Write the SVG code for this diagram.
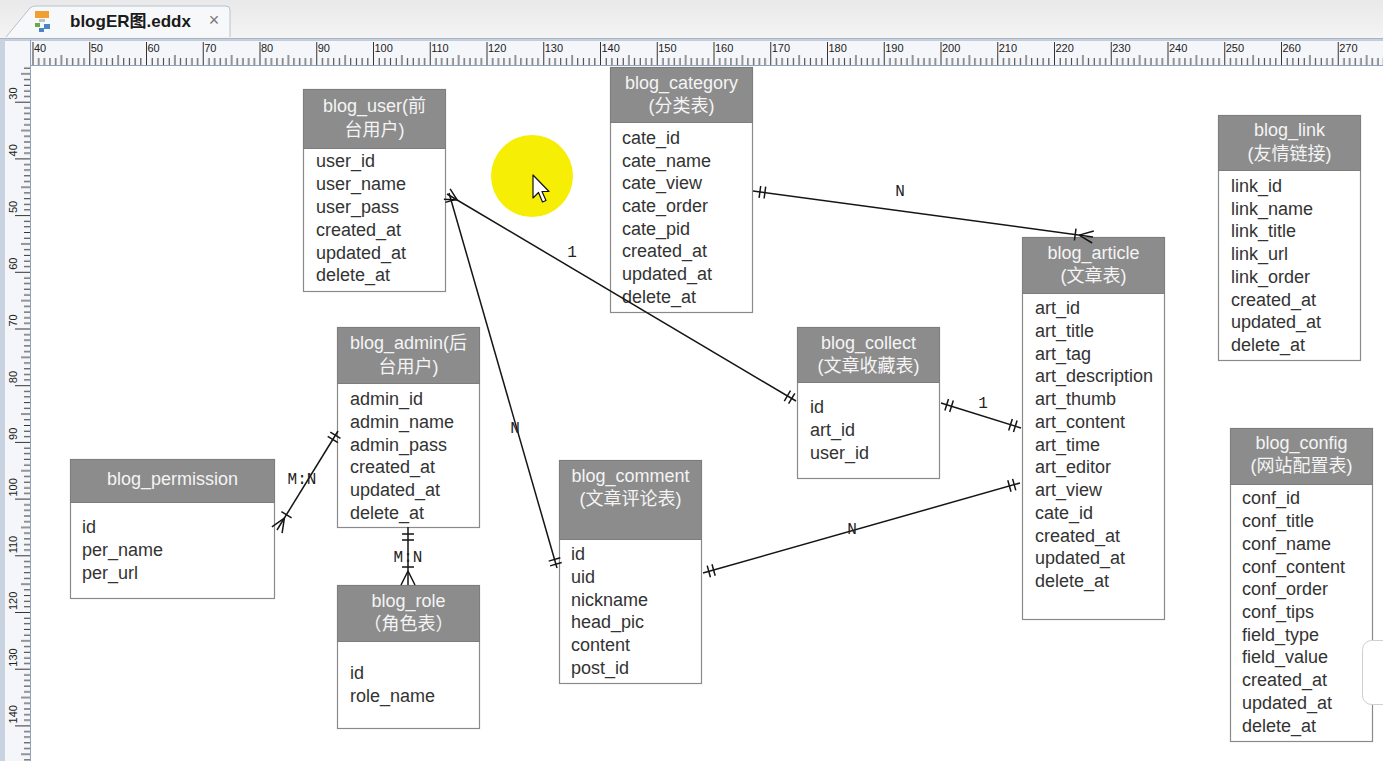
<svg xmlns="http://www.w3.org/2000/svg" width="1383" height="761" viewBox="0 0 1383 761">
<defs>
<style>
.hdr{fill:#8c8c8c;stroke:#7d7d7d;stroke-width:1}
.bdy{fill:#ffffff;stroke:#8a8a8a;stroke-width:1.2}
.ht{font-family:"Liberation Sans","Noto Sans CJK SC",sans-serif;font-size:18px;fill:#f4f4f4;text-anchor:middle}
.ft{font-family:"Liberation Sans","Noto Sans CJK SC",sans-serif;font-size:18px;fill:#333333}
.conn{stroke:#151515;stroke-width:1.5;fill:none}
.lbl{font-family:"Liberation Mono",monospace;font-size:16px;fill:#222222;text-anchor:middle}
.rl{font-family:"Liberation Sans",sans-serif;font-size:11px;fill:#222222}
.tk{stroke:#333333;stroke-width:1}
</style>
<pattern id="topTicks" patternUnits="userSpaceOnUse" x="32.5" y="40" width="56.75" height="26">
<path class="tk" d="M0.5 2V25M6.2 18V25M11.9 18V25M17.5 18V25M23.2 18V25M28.9 15V25M34.5 18V25M40.2 18V25M45.9 18V25M51.6 18V25"/>
</pattern>
<pattern id="leftTicks" patternUnits="userSpaceOnUse" x="5" y="101.7" width="26" height="56.7">
<path class="tk" d="M10 0.5H26M19 6.2H26M19 11.8H26M19 17.5H26M19 23.2H26M16 28.85H26M19 34.5H26M19 40.2H26M19 45.9H26M19 51.5H26"/>
</pattern>
<linearGradient id="tabbar" x1="0" y1="0" x2="0" y2="1">
<stop offset="0" stop-color="#e9e9e9"/>
<stop offset="1" stop-color="#f4f4f4"/>
</linearGradient>
</defs>

<!-- window chrome -->
<rect x="0" y="0" width="1383" height="761" fill="#ffffff"/>
<rect x="0" y="0" width="1383" height="39" fill="url(#tabbar)"/>
<line x1="0" y1="38.5" x2="1383" y2="38.5" stroke="#a9b4c4"/>
<path d="M6 37 L30 8 Q32 6 36 6 L226 6 Q230 6 230 10 L230 37" fill="#f7f8fa" stroke="#b8c1ce"/>
<g id="tab-icon">
<rect x="35" y="11" width="14" height="7" fill="#f0a030"/>
<rect x="39" y="19" width="6" height="3" fill="#c0c0c0"/>
<rect x="35" y="23" width="5" height="4" fill="#6aa84f"/>
<rect x="44" y="24" width="6" height="5" fill="#4a86c5"/>
<rect x="39" y="28" width="5" height="4" fill="#4a86c5"/>
</g>
<text x="70" y="27" font-family="Liberation Sans,'Noto Sans CJK SC',sans-serif" font-size="17" font-weight="bold" fill="#1a1a1a">blogER图.eddx</text>
<text x="214" y="26" font-family="Liberation Sans,sans-serif" font-size="18" fill="#777777" text-anchor="middle">×</text>

<!-- rulers -->
<rect x="0" y="40" width="1383" height="26" fill="#f4f6fa"/>
<rect x="31" y="40" width="1352" height="26" fill="url(#topTicks)"/>
<line x1="0" y1="40" x2="1383" y2="40" stroke="#8fa2bc"/>
<line x1="31" y1="65.5" x2="1383" y2="65.5" stroke="#8fa2bc"/>
<rect x="0" y="40" width="5" height="721" fill="#c8d2e0"/>
<rect x="5" y="66" width="26" height="695" fill="#f4f6fa"/>
<rect x="5" y="66" width="26" height="695" fill="url(#leftTicks)"/>
<line x1="30.5" y1="40" x2="30.5" y2="761" stroke="#8fa2bc"/>
<g id="top-ruler-labels" class="rl">
<text x="34" y="52">40</text><text x="90.7" y="52">50</text><text x="147.5" y="52">60</text><text x="204.2" y="52">70</text><text x="261" y="52">80</text><text x="317.7" y="52">90</text><text x="374.5" y="52">100</text><text x="431.2" y="52">110</text><text x="488" y="52">120</text><text x="544.7" y="52">130</text><text x="601.5" y="52">140</text><text x="658.2" y="52">150</text><text x="715" y="52">160</text><text x="771.7" y="52">170</text><text x="828.5" y="52">180</text><text x="885.2" y="52">190</text><text x="942" y="52">200</text><text x="998.7" y="52">210</text><text x="1055.5" y="52">220</text><text x="1112.2" y="52">230</text><text x="1169" y="52">240</text><text x="1225.7" y="52">250</text><text x="1282.5" y="52">260</text><text x="1339.2" y="52">270</text>
</g>
<g id="left-ruler-labels" class="rl">
<text transform="translate(17,99.7) rotate(-90)">30</text>
<text transform="translate(17,156.4) rotate(-90)">40</text>
<text transform="translate(17,213.1) rotate(-90)">50</text>
<text transform="translate(17,269.8) rotate(-90)">60</text>
<text transform="translate(17,326.5) rotate(-90)">70</text>
<text transform="translate(17,383.2) rotate(-90)">80</text>
<text transform="translate(17,439.9) rotate(-90)">90</text>
<text transform="translate(17,496.6) rotate(-90)">100</text>
<text transform="translate(17,553.3) rotate(-90)">110</text>
<text transform="translate(17,610) rotate(-90)">120</text>
<text transform="translate(17,666.7) rotate(-90)">130</text>
<text transform="translate(17,723.4) rotate(-90)">140</text>
</g>

<!-- highlight circle -->
<circle cx="532" cy="176" r="41" fill="#f7ee05"/>

<!-- nodes -->
<g id="blog_user">
<rect class="bdy" x="303.5" y="89.5" width="142" height="202"/>
<rect class="hdr" x="303.5" y="89.5" width="142" height="59"/>
<text class="ht" x="374.5" y="112">blog_user(前</text>
<text class="ht" x="374.5" y="136">台用户)</text>
<text class="ft" x="316" y="167">user_id</text>
<text class="ft" x="316" y="190">user_name</text>
<text class="ft" x="316" y="213">user_pass</text>
<text class="ft" x="316" y="236">created_at</text>
<text class="ft" x="316" y="259">updated_at</text>
<text class="ft" x="316" y="281">delete_at</text>
</g>

<g id="blog_category">
<rect class="bdy" x="610.5" y="67.5" width="142" height="245"/>
<rect class="hdr" x="610.5" y="67.5" width="142" height="55"/>
<text class="ht" x="681.5" y="89">blog_category</text>
<text class="ht" x="681.5" y="112">(分类表)</text>
<text class="ft" x="622" y="144">cate_id</text>
<text class="ft" x="622" y="167">cate_name</text>
<text class="ft" x="622" y="189">cate_view</text>
<text class="ft" x="622" y="212">cate_order</text>
<text class="ft" x="622" y="235">cate_pid</text>
<text class="ft" x="622" y="257">created_at</text>
<text class="ft" x="622" y="280">updated_at</text>
<text class="ft" x="622" y="303">delete_at</text>
</g>

<g id="blog_link">
<rect class="bdy" x="1218.5" y="115.5" width="142" height="245"/>
<rect class="hdr" x="1218.5" y="115.5" width="142" height="55"/>
<text class="ht" x="1289.5" y="136">blog_link</text>
<text class="ht" x="1289.5" y="160">(友情链接)</text>
<text class="ft" x="1231" y="192">link_id</text>
<text class="ft" x="1231" y="215">link_name</text>
<text class="ft" x="1231" y="237">link_title</text>
<text class="ft" x="1231" y="260">link_url</text>
<text class="ft" x="1231" y="283">link_order</text>
<text class="ft" x="1231" y="306">created_at</text>
<text class="ft" x="1231" y="328">updated_at</text>
<text class="ft" x="1231" y="351">delete_at</text>
</g>

<g id="blog_article">
<rect class="bdy" x="1022.5" y="237.5" width="142" height="382"/>
<rect class="hdr" x="1022.5" y="237.5" width="142" height="56"/>
<text class="ht" x="1093.5" y="259">blog_article</text>
<text class="ht" x="1093.5" y="282">(文章表)</text>
<text class="ft" x="1035" y="314">art_id</text>
<text class="ft" x="1035" y="337">art_title</text>
<text class="ft" x="1035" y="360">art_tag</text>
<text class="ft" x="1035" y="382">art_description</text>
<text class="ft" x="1035" y="405">art_thumb</text>
<text class="ft" x="1035" y="428">art_content</text>
<text class="ft" x="1035" y="451">art_time</text>
<text class="ft" x="1035" y="473">art_editor</text>
<text class="ft" x="1035" y="496">art_view</text>
<text class="ft" x="1035" y="519">cate_id</text>
<text class="ft" x="1035" y="542">created_at</text>
<text class="ft" x="1035" y="564">updated_at</text>
<text class="ft" x="1035" y="587">delete_at</text>
</g>

<g id="blog_collect">
<rect class="bdy" x="797.5" y="327.5" width="142" height="151"/>
<rect class="hdr" x="797.5" y="327.5" width="142" height="55"/>
<text class="ht" x="868.5" y="349">blog_collect</text>
<text class="ht" x="868.5" y="372">(文章收藏表)</text>
<text class="ft" x="810" y="413">id</text>
<text class="ft" x="810" y="436">art_id</text>
<text class="ft" x="810" y="459">user_id</text>
</g>

<g id="blog_admin">
<rect class="bdy" x="337.5" y="327.5" width="142" height="200"/>
<rect class="hdr" x="337.5" y="327.5" width="142" height="56"/>
<text class="ht" x="408.5" y="349">blog_admin(后</text>
<text class="ht" x="408.5" y="373">台用户)</text>
<text class="ft" x="350" y="405">admin_id</text>
<text class="ft" x="350" y="428">admin_name</text>
<text class="ft" x="350" y="451">admin_pass</text>
<text class="ft" x="350" y="473">created_at</text>
<text class="ft" x="350" y="496">updated_at</text>
<text class="ft" x="350" y="519">delete_at</text>
</g>

<g id="blog_permission">
<rect class="bdy" x="70.5" y="459.5" width="204" height="139"/>
<rect class="hdr" x="70.5" y="459.5" width="204" height="43"/>
<text class="ht" x="172.5" y="485">blog_permission</text>
<text class="ft" x="82" y="533">id</text>
<text class="ft" x="82" y="556">per_name</text>
<text class="ft" x="82" y="579">per_url</text>
</g>

<g id="blog_comment">
<rect class="bdy" x="559.5" y="460.5" width="142" height="223"/>
<rect class="hdr" x="559.5" y="460.5" width="142" height="79"/>
<text class="ht" x="630.5" y="482">blog_comment</text>
<text class="ht" x="630.5" y="505">(文章评论表)</text>
<text class="ft" x="571" y="560">id</text>
<text class="ft" x="571" y="583">uid</text>
<text class="ft" x="571" y="606">nickname</text>
<text class="ft" x="571" y="628">head_pic</text>
<text class="ft" x="571" y="651">content</text>
<text class="ft" x="571" y="674">post_id</text>
</g>

<g id="blog_role">
<rect class="bdy" x="337.5" y="585.5" width="142" height="143"/>
<rect class="hdr" x="337.5" y="585.5" width="142" height="56"/>
<text class="ht" x="408.5" y="607">blog_role</text>
<text class="ht" x="408.5" y="630">（角色表）</text>
<text class="ft" x="350" y="679">id</text>
<text class="ft" x="350" y="702">role_name</text>
</g>

<g id="blog_config">
<rect class="bdy" x="1230.5" y="428.5" width="142" height="313"/>
<rect class="hdr" x="1230.5" y="428.5" width="142" height="56"/>
<text class="ht" x="1301.5" y="449">blog_config</text>
<text class="ht" x="1301.5" y="472">(网站配置表)</text>
<text class="ft" x="1242" y="504">conf_id</text>
<text class="ft" x="1242" y="527">conf_title</text>
<text class="ft" x="1242" y="550">conf_name</text>
<text class="ft" x="1242" y="573">conf_content</text>
<text class="ft" x="1242" y="595">conf_order</text>
<text class="ft" x="1242" y="618">conf_tips</text>
<text class="ft" x="1242" y="641">field_type</text>
<text class="ft" x="1242" y="663">field_value</text>
<text class="ft" x="1242" y="686">created_at</text>
<text class="ft" x="1242" y="709">updated_at</text>
<text class="ft" x="1242" y="732">delete_at</text>
</g>

<!-- connectors -->
<g id="connectors">
<!-- user - collect -->
<path class="conn" d="M447 194 L796 401"/>
<path class="conn" d="M794.8 393.3 L788.6 403.7 M790.5 390.7 L784.3 401.1"/>
<path class="conn" d="M457.3 200.1 L443.9 199.2 M457.3 200.1 L450.1 188.8"/>
<text class="lbl" x="572" y="257">1</text>
<!-- user - comment -->
<path class="conn" d="M449 193 L557 568"/>
<path class="conn" d="M550.1 565.9 L561.7 562.5 M548.7 561.1 L560.3 557.7"/>
<path class="conn" d="M445.4 202.4 L457 199"/>
<text class="lbl" x="515" y="433">N</text>
<!-- category - article -->
<path class="conn" d="M753 191 L1093 237"/>
<path class="conn" d="M760.7 186 L759.1 197.9 M765.7 186.6 L764.1 198.5"/>
<path class="conn" d="M1079.1 235.1 L1092.2 243 M1079.1 235.1 L1093.8 231 M1076 228.6 L1074.4 240.5"/>
<text class="lbl" x="900" y="196">N</text>
<!-- collect - article -->
<path class="conn" d="M941 403 L1021 428"/>
<path class="conn" d="M948.5 399.1 L944.9 410.5 M953.3 400.6 L949.7 412 M1017.1 420.5 L1013.5 431.9 M1012.3 419 L1008.7 430.4"/>
<text class="lbl" x="983" y="408">1</text>
<!-- comment - article -->
<path class="conn" d="M703 573 L1020 483"/>
<path class="conn" d="M707.2 565.6 L710.4 577.2 M712 564.2 L715.2 575.8 M1012.6 478.9 L1015.8 490.4 M1007.8 480.2 L1011 491.8"/>
<text class="lbl" x="852" y="534">N</text>
<!-- permission - admin -->
<path class="conn" d="M338 431 L277 530"/>
<path class="conn" d="M330.3 432.1 L340.5 438.4 M327.7 436.4 L337.9 442.7"/>
<path class="conn" d="M284.4 518.1 L271.9 526.9 M284.4 518.1 L282.1 533.2 M281.4 511.6 L291.6 517.9"/>
<text class="lbl" x="302" y="484">M:N</text>
<!-- admin - role -->
<path class="conn" d="M408 527 L408 585"/>
<path class="conn" d="M402 534 H414 M402 540 H414 M402 567 H414 M408 571 L401 585 M408 571 L415 585"/>
<text class="lbl" x="408" y="562">M:N</text>
</g>

<!-- side handle and cursor -->
<rect x="1362.5" y="640.5" width="30" height="64" rx="9" fill="#ffffff" stroke="#d0d0d0"/>
<path d="M533 175 L533 198 L538.5 192.5 L542.5 202 L546 200.5 L542 191.5 L549 191.5 Z" fill="#ffffff" stroke="#111111" stroke-width="1.2" stroke-linejoin="round"/>
</svg>
